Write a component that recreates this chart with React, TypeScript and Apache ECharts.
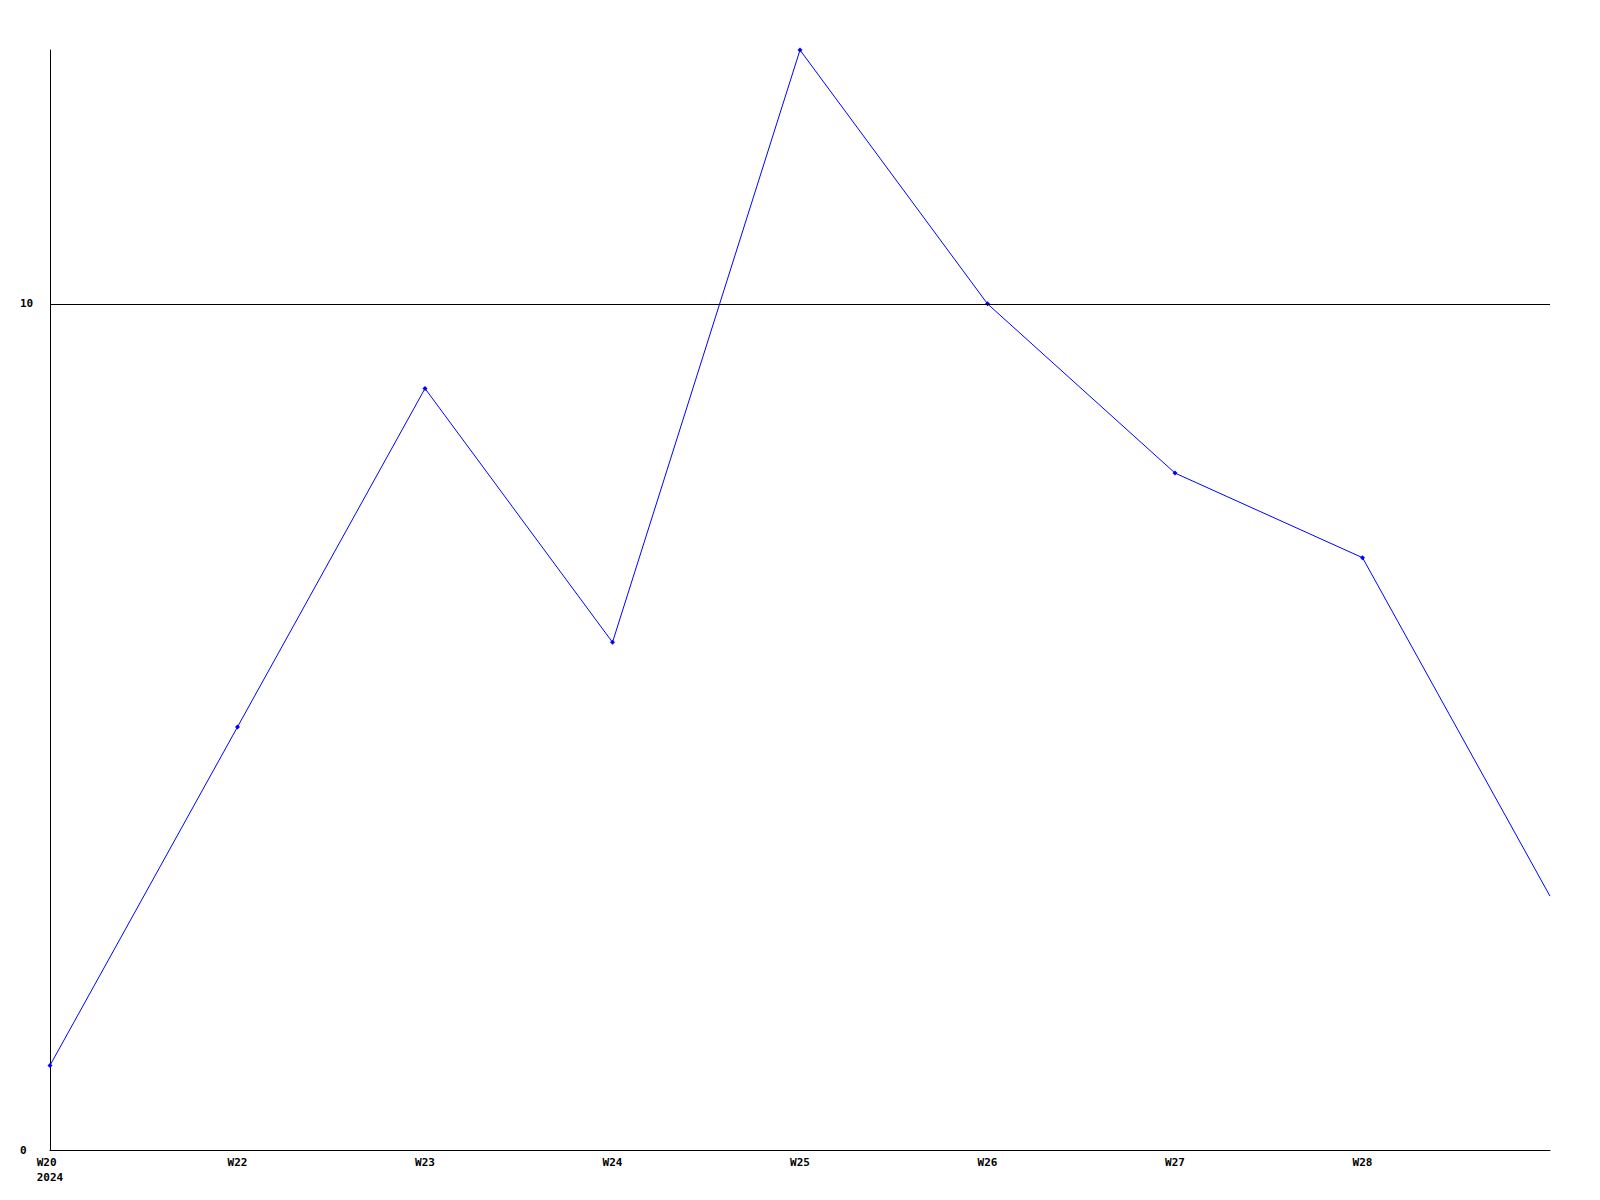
import React, { useEffect, useRef } from "react";
import * as echarts from "echarts";

const categories = ["W20 \n2024", "W22", "W23", "W24", "W25", "W26", "W27", "W28", ""];
const values = [1, 5, 9, 6, 13, 10, 8, 7, 3];
const yTicks = [0, 10];

export default function App() {
  const ref = useRef<HTMLDivElement>(null);
  useEffect(() => {
    if (!ref.current) return;
    const chart = echarts.init(ref.current, null, { renderer: "svg" });
    const font = { fontFamily: "DejaVu Sans Mono", fontWeight: "bold" as const, fontSize: 11, color: "#000" };
    chart.setOption({
      animation: false,
      backgroundColor: "#fff",
      grid: { left: 50, right: 50, top: 50, bottom: 50, containLabel: false },
      xAxis: {
        type: "category",
        data: categories,
        boundaryGap: false,
        axisLine: { show: true, lineStyle: { color: "#000", width: 1 } },
        axisTick: { show: false },
        splitLine: { show: false },
        axisLabel: { ...font, margin: 5, lineHeight: 15, interval: 0 },
      },
      yAxis: {
        type: "value",
        min: 0,
        max: 13,
        interval: 10,
        axisLine: { show: true, lineStyle: { color: "#000", width: 1 } },
        axisTick: { show: false },
        splitLine: { show: false },
        axisLabel: {
          ...font,
          align: "left",
          margin: 30,
          showMaxLabel: false,
          formatter: (v: number) => (yTicks.includes(v) ? String(v) : ""),
        },
      },
      series: [
        {
          type: "line",
          data: values.map((v, i) =>
            i === values.length - 1 ? { value: v, symbol: "none" } : v
          ),
          symbol: "diamond",
          symbolSize: 5,
          showSymbol: true,
          lineStyle: { color: "#0000ff", width: 1 },
          itemStyle: { color: "#0000ff" },
          silent: true,
          markLine: {
            silent: true,
            symbol: "none",
            label: { show: false },
            lineStyle: { color: "#000", width: 1, type: "solid" },
            data: [{ yAxis: 10 }],
          },
        },
      ],
    });
    return () => chart.dispose();
  }, []);
  return (
    <div
      ref={ref}
      style={{ position: "fixed", left: 0, top: 0, width: 1600, height: 1200, background: "#fff" }}
    />
  );
}
